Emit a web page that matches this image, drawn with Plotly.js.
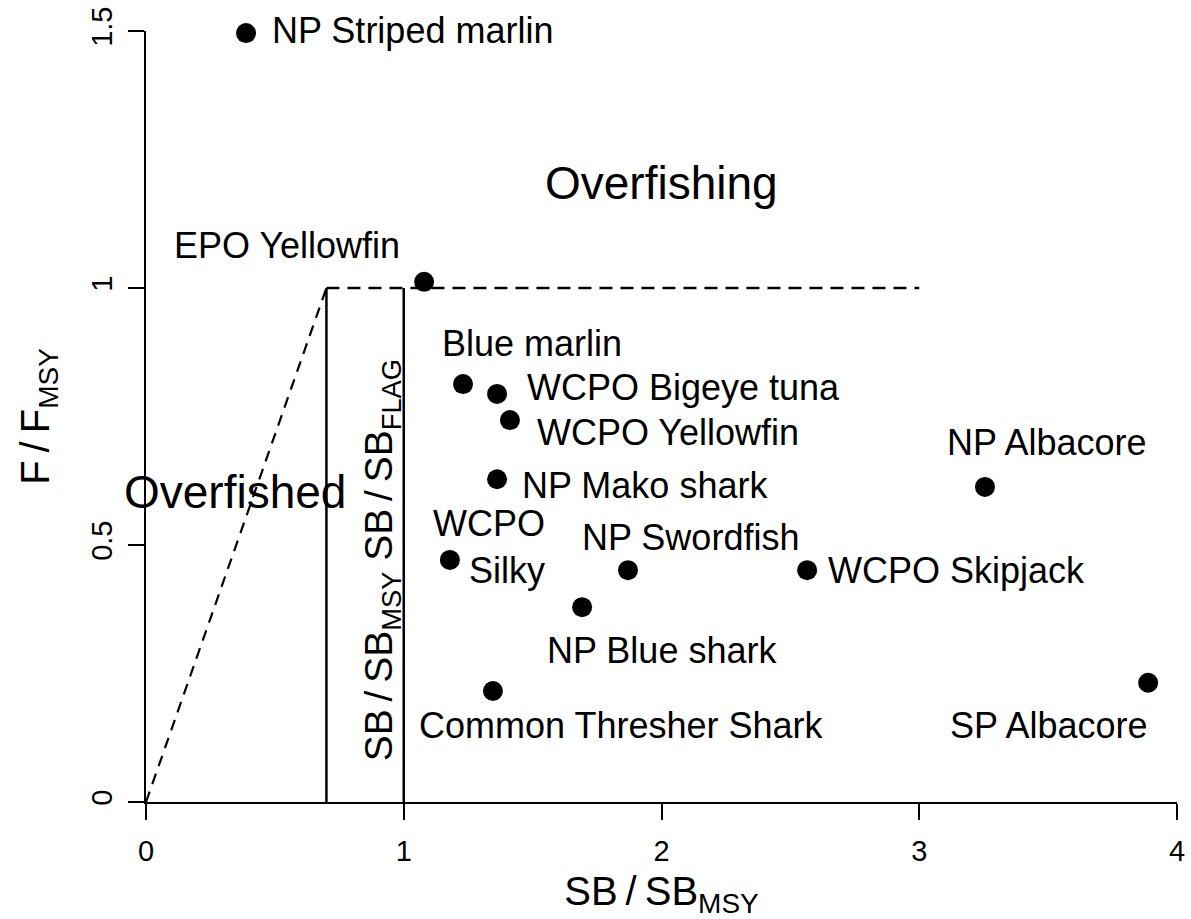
<!DOCTYPE html>
<html>
<head>
<meta charset="utf-8">
<script src="https://cdn.plot.ly/plotly-3.0.1.min.js"></script>
<style>html,body{margin:0;padding:0;background:#fff;}#chart{width:1191px;height:919px;}</style>
</head>
<body>
<div id="chart"></div>
<script>
// ---- data ----
var stocks = ["NP Striped marlin","EPO Yellowfin","Blue marlin","WCPO Bigeye tuna","WCPO Yellowfin","NP Mako shark","WCPO<br>Silky","NP Swordfish","NP Blue shark","Common Thresher Shark","WCPO Skipjack","NP Albacore","SP Albacore"];
var sbRatio = [0.388, 1.079, 1.230, 1.362, 1.412, 1.362, 1.179, 1.870, 1.692, 1.346, 2.565, 3.255, 3.888];
var fRatio  = [1.496, 1.012, 0.813, 0.794, 0.743, 0.628, 0.471, 0.451, 0.379, 0.216, 0.451, 0.613, 0.232];
// reference lines
var limitX = [0, 0.7];      // overfished limit: dashed from origin
var limitY = [0, 1];
var fmsyX = [0.7, 3];       // F = F_MSY dashed
var fmsyY = [1, 1];
var sbLimit = 0.7, sbMsy = 1;
var xTicks = [0, 1, 2, 3, 4];
var yTicks = [0, 0.5, 1, 1.5];
var yTickText = ["0", "0.5", "1", "1.5"];

// ---- label styling (pixel offsets from each point) ----
var labelStyle = [
  {xanchor:"left",  xshift:24,   yshift:3},
  {xanchor:"center",xshift:-137, yshift:36},
  {xanchor:"center",xshift:69,   yshift:41},
  {xanchor:"left",  xshift:28,   yshift:6},
  {xanchor:"left",  xshift:25,   yshift:-12},
  {xanchor:"left",  xshift:23,   yshift:-6},
  {xanchor:"right", xshift:97,   yshift:13, align:"right"},
  {xanchor:"center",xshift:63,   yshift:33},
  {xanchor:"center",xshift:80,   yshift:-43},
  {xanchor:"center",xshift:128,  yshift:-35},
  {xanchor:"left",  xshift:19,   yshift:0},
  {xanchor:"center",xshift:62,   yshift:44},
  {xanchor:"center",xshift:-100, yshift:-43}
];

var FONT = "Liberation Sans, Arial, Helvetica, sans-serif";
var LBL = 36;

var traces = [
  {x: limitX, y: limitY, mode:"lines", line:{color:"#000", width:2.2, dash:"11px,8px"}, hoverinfo:"skip"},
  {x: fmsyX, y: fmsyY, mode:"lines", line:{color:"#000", width:2.5, dash:"13px,8px"}, hoverinfo:"skip"},
  {x: [sbLimit, sbLimit], y: [0, 1], mode:"lines", line:{color:"#000", width:2.5}, hoverinfo:"skip"},
  {x: [sbMsy, sbMsy], y: [0, 1], mode:"lines", line:{color:"#000", width:2.5}, hoverinfo:"skip"},
  {x: sbRatio, y: fRatio, mode:"markers", marker:{color:"#000", size:20, symbol:"circle"}, cliponaxis:false, hoverinfo:"skip"}
];

var annotations = stocks.map(function(s, i){
  var st = labelStyle[i];
  return {x: sbRatio[i], y: fRatio[i], xref:"x", yref:"y", text: s, showarrow:false,
          xanchor: st.xanchor, yanchor:"middle", xshift: st.xshift, yshift: st.yshift,
          align: st.align || "center", font:{family:FONT, size:LBL, color:"#000"}};
});
annotations.push({x:2.0, y:1.204, xref:"x", yref:"y", text:"Overfishing", showarrow:false,
  font:{family:FONT, size:46, color:"#000"}});
annotations.push({x:0.345, y:0.603, xref:"x", yref:"y", text:"Overfished", showarrow:false,
  font:{family:FONT, size:46, color:"#000"}});
annotations.push({x:0.915, y:0.47, xref:"x", yref:"y", text:"SB\u2009/\u2009SB<sub>MSY</sub> SB\u2009/\u2009SB<sub>FLAG</sub>", showarrow:false,
  textangle:-90, font:{family:FONT, size:39, color:"#000"}});

var layout = {
  width:1191, height:919,
  margin:{l:146, r:14, t:31, b:117},
  paper_bgcolor:"#fff", plot_bgcolor:"#fff",
  showlegend:false,
  font:{family:FONT, color:"#000"},
  xaxis:{range:[0,4], tickvals:xTicks, ticktext:xTicks.map(String), showgrid:false, zeroline:false,
         showline:true, linecolor:"#000", linewidth:2, ticks:"outside", ticklen:16, tickwidth:2, tickcolor:"#000",
         tickfont:{family:FONT, size:29, color:"#000"}, ticklabelstandoff:6,
         title:{text:"SB\u2009/\u2009SB<sub>MSY</sub>", font:{family:FONT, size:40, color:"#000"}, standoff:12}},
  yaxis:{range:[0,1.5], tickvals:yTicks, ticktext:yTickText, showgrid:false, zeroline:false,
         showline:true, linecolor:"#000", linewidth:2, ticks:"outside", ticklen:16, tickwidth:2, tickcolor:"#000",
         tickangle:-90, tickfont:{family:FONT, size:29, color:"#000"}, ticklabelstandoff:4,
         title:{text:"F\u2009/\u2009F<sub>MSY</sub>", font:{family:FONT, size:40, color:"#000"}, standoff:24}},
  annotations: annotations
};

Plotly.newPlot("chart", traces, layout, {staticPlot:true, displayModeBar:false});
</script>
</body>
</html>
